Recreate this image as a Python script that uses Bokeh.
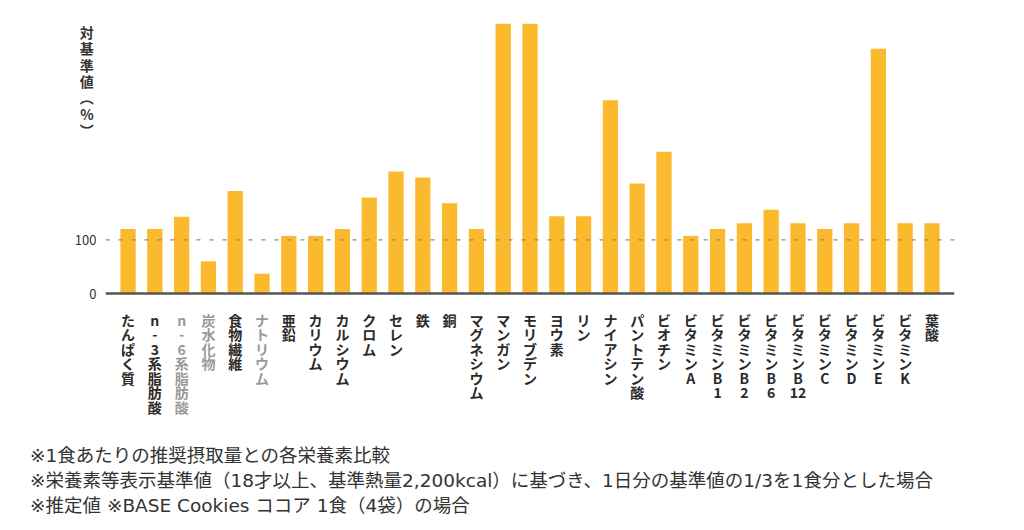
from bokeh.plotting import figure
from bokeh.models import (FactorRange, Range1d, FixedTicker, Span, Div,
                          ColumnDataSource)
from bokeh.layouts import column
from bokeh.core.properties import value
from bokeh.embed import file_html
from bokeh.resources import INLINE

# ---- data ----
categories = ["たんぱく質", "n-3系脂肪酸", "n-6系脂肪酸", "炭水化物", "食物繊維",
              "ナトリウム", "亜鉛", "カリウム", "カルシウム", "クロム", "セレン",
              "鉄", "銅", "マグネシウム", "マンガン", "モリブデン", "ヨウ素", "リン",
              "ナイアシン", "パントテン酸", "ビオチン", "ビタミンA", "ビタミンB1",
              "ビタミンB2", "ビタミンB6", "ビタミンB12", "ビタミンC", "ビタミンD",
              "ビタミンE", "ビタミンK", "葉酸"]
values = [120, 120, 143, 60, 191, 37, 107, 107, 120, 179, 227, 216, 168, 120,
          503, 503, 144, 144, 360, 205, 264, 107, 120, 131, 156, 131, 120, 131,
          456, 131, 131]
muted = ["n-6系脂肪酸", "炭水化物", "ナトリウム"]
y_ticks = [0, 100]
reference_level = 100
y_title = "対基準値(%)"
footnotes = [
    "※1食あたりの推奨摂取量との各栄養素比較",
    "※栄養素等表示基準値（18才以上、基準熱量2,200kcal）に基づき、1日分の基準値の1/3を1食分とした場合",
    "※推定値 ※BASE Cookies ココア 1食（4袋）の場合",
]

FONT = "Noto Sans CJK JP"
BAR = "#FBBA2D"


def vertical(s):
    out = []
    for ch in s:
        if out and ch.isdigit() and out[-1].isdigit():
            out[-1] += ch
        else:
            out.append(ch)
    return "\n".join(out)


def vertical_title(s, lead=0):
    rep = {"(": "︵", ")": "︶"}
    return "\n" * lead + "\n".join(rep.get(c, c) for c in s)


# ---- layout geometry (px, canvas coordinates) ----
W, H = 1016, 432
frame_left, frame_right = 105, 954
frame_top, frame_bottom = 23, 430
px_per_unit = 0.537
zero_px = 293  # canvas y of value 0
y_end = (zero_px - frame_top) / px_per_unit
y_start = -(frame_bottom - zero_px) / px_per_unit


def yv(canvas_y):
    return (zero_px - canvas_y) / px_per_unit


p = figure(width=W, height=H, output_backend="svg", toolbar_location=None,
           x_range=FactorRange(factors=categories, range_padding=0.022),
           y_range=Range1d(y_start, y_end), x_axis_location=None,
           min_border_left=frame_left, min_border_right=W - frame_right,
           min_border_top=frame_top, min_border_bottom=H - frame_bottom,
           background_fill_color="white", border_fill_color="white")
p.outline_line_color = None
p.xgrid.visible = False
p.ygrid.visible = False

src = ColumnDataSource(dict(
    cat=categories, val=values,
    lab=[vertical(c) for c in categories],
    col=["#9a9a9a" if c in muted else "#2a2a2a" for c in categories],
))

p.vbar(x="cat", top="val", width=0.57, source=src, fill_color=BAR,
       line_color=None)

p.add_layout(Span(location=reference_level, dimension="width",
                  line_color="#8a8a8a", line_dash="4 9", line_width=1.2))
p.add_layout(Span(location=0, dimension="width", line_color="#555555",
                  line_width=2.5))

p.text(x="cat", y=yv(309), text="lab", source=src, text_color="col",
       text_font=value(FONT), text_font_style="bold",
       text_font_size="14px", text_line_height=0.725,
       text_align="center", text_baseline="top")

ax = p.yaxis[0]
ax.ticker = FixedTicker(ticks=y_ticks)
ax.axis_line_color = None
ax.major_tick_line_color = None
ax.minor_tick_line_color = None
ax.major_tick_out = 0
ax.major_tick_in = 0
ax.minor_tick_out = 0
ax.minor_tick_in = 0
ax.major_label_standoff = 9
ax.major_label_text_font = FONT
ax.major_label_text_font_size = "13px"
ax.major_label_text_color = "#333333"

ax.axis_label = vertical_title(y_title, lead=7)
ax.axis_label_text_font = FONT
ax.axis_label_text_font_style = "bold"
ax.axis_label_text_font_size = "14px"
ax.axis_label_text_color = "#333333"
ax.axis_label_text_line_height = 0.82
ax.axis_label_standoff = -22
props = ax.properties()
if "axis_label_orientation" in props:
    ax.axis_label_orientation = "horizontal"
if "axis_label_align" in props:
    ax.axis_label_align = "end"

notes = Div(
    text="<br>".join(footnotes), width=W, height=522 - H, margin=(0, 0, 0, 0),
    styles={"font-family": "'DejaVu Sans', 'Noto Sans CJK JP'",
            "font-size": "18.5px", "line-height": "25px",
            "color": "#333333", "padding-left": "30px", "padding-top": "11px",
            "white-space": "nowrap"})

layout = column(p, notes, spacing=0)
open("out.html", "w").write(file_html(layout, INLINE))
